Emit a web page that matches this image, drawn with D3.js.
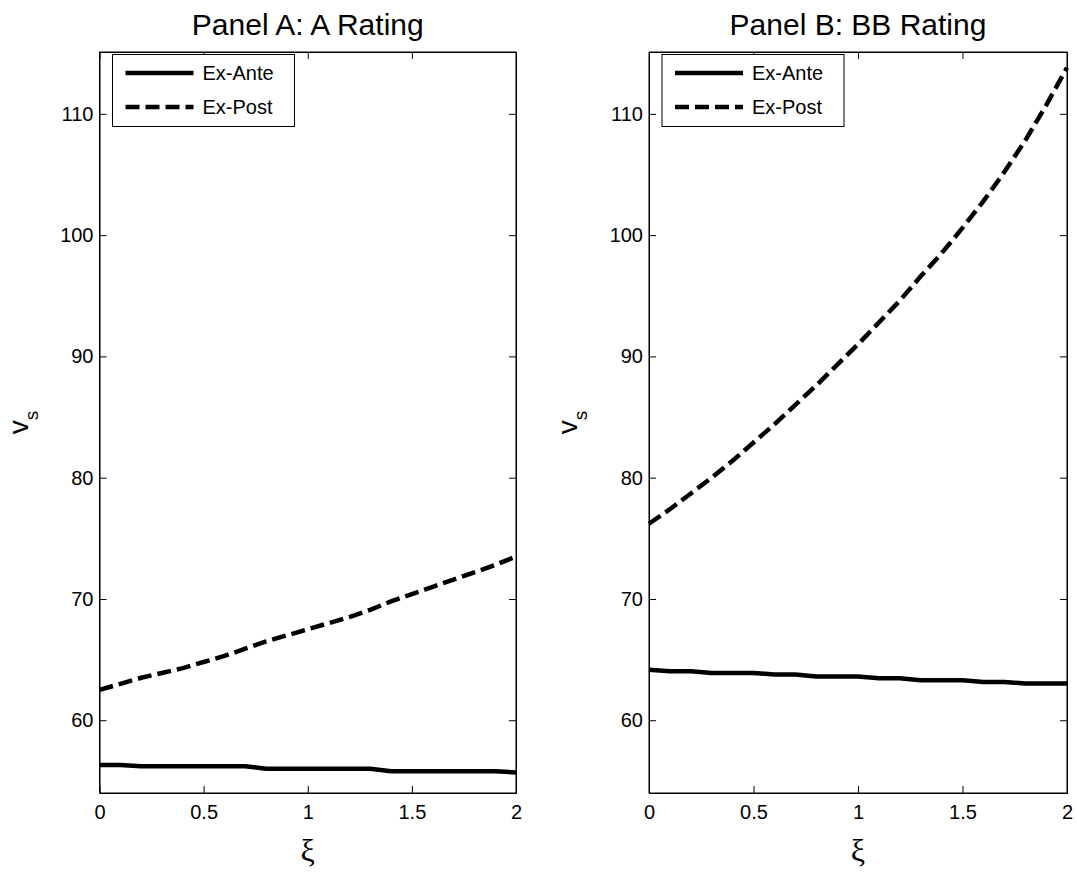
<!DOCTYPE html>
<html>
<head>
<meta charset="utf-8">
<script src="https://d3js.org/d3.v7.min.js"></script>
<style>
  body { margin: 0; background: #fff; }
  svg { display: block; font-family: "Liberation Sans", Arial, Helvetica, sans-serif; }
  .tickLabels { font-size: 20px; fill: #000; }
  .title { font-size: 30px; fill: #000; }
  .legendText { font-size: 20px; fill: #000; }
</style>
</head>
<body>
<svg id="svg-chart" width="1077" height="872"></svg>
<script>
var svg = d3.select("#svg-chart");

// x values (xi) shared by every series
var xi = [0, 0.1, 0.2, 0.3, 0.4, 0.5, 0.6, 0.7, 0.8, 0.9, 1.0,
          1.1, 1.2, 1.3, 1.4, 1.5, 1.6, 1.7, 1.8, 1.9, 2.0];

// Panel A: A Rating
var anteA = [56.3, 56.3, 56.2, 56.2, 56.2, 56.2, 56.2, 56.2, 56.0, 56.0, 56.0,
             56.0, 56.0, 56.0, 55.8, 55.8, 55.8, 55.8, 55.8, 55.8, 55.7];
var postA = [62.5, 63.0, 63.5, 63.9, 64.3, 64.8, 65.3, 65.9, 66.5, 67.0, 67.5,
             68.0, 68.5, 69.1, 69.8, 70.4, 71.0, 71.6, 72.2, 72.8, 73.5];

// Panel B: BB Rating
var anteB = [64.17, 64.04, 64.04, 63.9, 63.9, 63.9, 63.77, 63.77, 63.6, 63.6, 63.6,
             63.47, 63.47, 63.3, 63.3, 63.3, 63.16, 63.16, 63.03, 63.03, 63.03];
var postB = [76.2, 77.4, 78.7, 80.0, 81.4, 82.9, 84.4, 86.0, 87.6, 89.3, 91.0,
             92.8, 94.6, 96.6, 98.5, 100.6, 102.8, 105.2, 107.8, 110.7, 113.8];

var xTicks = [0, 0.5, 1, 1.5, 2];
var xTickLabels = ["0", "0.5", "1", "1.5", "2"];
var yTicks = [60, 70, 80, 90, 100, 110];
var yDomain = [54, 115.1];
var seriesNames = ["Ex-Ante", "Ex-Post"];
var panelTitles = ["Panel A: A Rating", "Panel B: BB Rating"];

// layout
var plotTop = 52;
var plotBottom = 793;
var tickLen = 7;

function drawPanel(left, right, title, ante, post) {
  var g = svg.append("g");

  var xScale = d3.scaleLinear().domain([0, 2]).range([left, right]);
  var yScale = d3.scaleLinear().domain(yDomain).range([plotBottom, plotTop]);

  // axes with inward ticks, mirrored on all four sides (matlab style)
  g.append("g")
    .attr("transform", "translate(0," + plotBottom + ")")
    .call(d3.axisBottom(xScale).tickValues(xTicks).tickSizeInner(-tickLen).tickSizeOuter(0)
      .tickPadding(12).tickFormat(function(d, i) { return xTickLabels[i]; }));
  g.append("g")
    .attr("transform", "translate(0," + plotTop + ")")
    .call(d3.axisTop(xScale).tickValues(xTicks).tickSizeInner(-tickLen).tickSizeOuter(0)
      .tickFormat(""));
  g.append("g")
    .attr("transform", "translate(" + left + ",0)")
    .call(d3.axisLeft(yScale).tickValues(yTicks).tickSizeInner(-tickLen).tickSizeOuter(0)
      .tickPadding(6).tickFormat(d3.format("d")));
  g.append("g")
    .attr("transform", "translate(" + right + ",0)")
    .call(d3.axisRight(yScale).tickValues(yTicks).tickSizeInner(-tickLen).tickSizeOuter(0)
      .tickFormat(""));

  g.selectAll(".domain").attr("stroke", "#000");
  g.selectAll(".tick line").attr("stroke", "#000");
  g.selectAll(".tick text")
    .attr("class", "tickLabels")
    .style("font-size", "20px")
    .style("font-family", "'Liberation Sans', Arial, sans-serif")
    .attr("fill", "#000");

  // box
  g.append("rect")
    .attr("x", left).attr("y", plotTop)
    .attr("width", right - left).attr("height", plotBottom - plotTop)
    .attr("fill", "none").attr("stroke", "#000").attr("stroke-width", 1);

  var line = d3.line()
    .x(function(d, i) { return xScale(xi[i]); })
    .y(function(d) { return yScale(d); });

  g.append("path").datum(ante)
    .attr("d", line).attr("fill", "none").attr("stroke", "#000")
    .attr("stroke-width", 4.5).attr("stroke-linejoin", "round");
  g.append("path").datum(post)
    .attr("d", line).attr("fill", "none").attr("stroke", "#000")
    .attr("stroke-width", 4.5).attr("stroke-dasharray", "14,6");

  // title
  g.append("text")
    .attr("class", "title")
    .attr("x", (left + right) / 2).attr("y", 35)
    .attr("text-anchor", "middle")
    .text(title);

  // x label
  g.append("text")
    .attr("x", (left + right) / 2).attr("y", 861)
    .attr("text-anchor", "middle")
    .style("font-family", "'Liberation Serif', 'Times New Roman', serif")
    .style("font-size", "32px")
    .text("\u03BE");

  // y label v_s
  var yl = g.append("text")
    .attr("transform", "translate(" + (left - 72) + "," + ((plotTop + plotBottom) / 2) + ") rotate(-90)")
    .attr("text-anchor", "middle")
    .style("font-size", "28px");
  yl.append("tspan").text("v");
  yl.append("tspan").attr("dy", 10).style("font-size", "19px").text("s");

  // legend
  var lx = left + 13;
  var legend = g.append("g");
  legend.append("rect")
    .attr("x", lx).attr("y", 54.5)
    .attr("width", 182).attr("height", 72)
    .attr("fill", "#fff").attr("stroke", "#000").attr("stroke-width", 1);
  var rows = legend.selectAll(".legendRow")
    .data(seriesNames)
    .enter()
    .append("g")
    .attr("class", "legendRow")
    .attr("transform", function(d, i) { return "translate(0," + (73 + 34 * i) + ")"; });
  rows.append("line")
    .attr("x1", lx + 13).attr("x2", lx + 81)
    .attr("stroke", "#000").attr("stroke-width", 4.5)
    .attr("stroke-dasharray", function(d, i) { return i === 1 ? "14,6" : null; });
  rows.append("text")
    .attr("class", "legendText")
    .attr("x", lx + 90).attr("dy", "0.35em")
    .text(function(d) { return d; });
}

drawPanel(99.5, 516, panelTitles[0], anteA, postA);
drawPanel(649, 1067, panelTitles[1], anteB, postB);
</script>
</body>
</html>
